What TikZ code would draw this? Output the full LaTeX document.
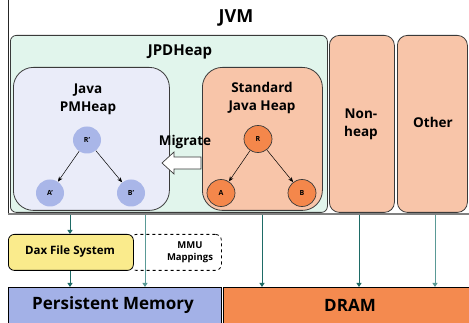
\documentclass[tikz,border=0pt]{standalone}
\usepackage{fontspec}
\setmainfont{Open Sans}
\usetikzlibrary{arrows.meta,shapes.geometric}
\definecolor{mint}{HTML}{E1F5EC}
\definecolor{lav}{HTML}{EAECF9}
\definecolor{salmon}{HTML}{F8C5A9}
\definecolor{orng}{HTML}{F4874B}
\definecolor{lavc}{HTML}{A9B6E8}
\definecolor{yel}{HTML}{FAEB8C}
\definecolor{pmblue}{HTML}{A3B1E7}
\definecolor{dram}{HTML}{F48A4F}
\definecolor{teal1}{HTML}{1E6B66}
\definecolor{teal2}{HTML}{5A9A96}
\definecolor{edge}{HTML}{3A3A3A}
\tikzset{
  boxr/.style={draw=edge, line width=0.8pt, anchor=north west, inner sep=0pt},
  lbl/.style={font=\bfseries, align=center, inner sep=0pt, text=black},
  circ/.style={ellipse, minimum width=28pt, minimum height=27pt, inner sep=0pt, font=\bfseries\fontsize{7}{8}\selectfont},
  treearr/.style={-{Stealth[length=5pt,width=4pt]}, line width=0.5pt},
  conn/.style={-{Triangle[length=4pt,width=5pt]}, line width=0.9pt, draw=teal1},
  connl/.style={-{Triangle[length=4pt,width=5pt]}, line width=0.9pt, draw=teal2},
}
\begin{document}
\begin{tikzpicture}[x=1pt,y=-1pt]
\useasboundingbox (0,0) rectangle (469,323);
\begin{scope}
\clip (0,0) rectangle (469,323);
% JVM frame
\draw[black!85, line width=1pt] (8,-5) -- (8,213);
\draw[gray, line width=2pt] (8,214) -- (475,214);
\node[lbl, font=\bfseries\fontsize{18}{20}\selectfont] (jvm) at (236,18) {JVM};
% JPDHeap
\node[boxr, fill=mint, rounded corners=6pt, minimum width=317pt, minimum height=177pt] (jpd) at (10,35) {};
\node[lbl, font=\bfseries\fontsize{15}{17}\selectfont] (jpdt) at (180,52) {JPDHeap};
% PMHeap
\node[boxr, fill=lav, rounded corners=20pt, minimum width=156pt, minimum height=143pt] (pmh) at (13,67) {};
\node[lbl, font=\bfseries\fontsize{13.5}{18}\selectfont] (pmht) at (88,99) {Java\\PMHeap};
% Standard heap
\node[boxr, fill=salmon, rounded corners=20pt, minimum width=120pt, minimum height=143pt] (sjh) at (202,67) {};
\node[lbl, font=\bfseries\fontsize{13.5}{18}\selectfont] (sjht) at (262,98) {Standard\\Java Heap};
% Non-heap, Other
\node[boxr, fill=salmon, rounded corners=10pt, minimum width=65pt, minimum height=177pt] (nh) at (329,35) {};
\node[lbl, font=\bfseries\fontsize{13.5}{18}\selectfont] (nht) at (361,124) {Non-\\heap};
\node[boxr, fill=salmon, rounded corners=10pt, minimum width=70pt, minimum height=177pt] (oth) at (397,35) {};
\node[lbl, font=\bfseries\fontsize{13.5}{18}\selectfont] (otht) at (433,122) {Other};
% trees
\node[circ, fill=lavc] (Rp) at (87,140) {R'};
\node[circ, fill=lavc] (Ap) at (50,193) {A'};
\node[circ, fill=lavc] (Bp) at (131,193) {B'};
\node[circ, fill=orng, draw=edge, line width=0.7pt] (R) at (258,139) {R};
\node[circ, fill=orng, draw=edge, line width=0.7pt] (A) at (221,193) {A};
\node[circ, fill=orng, draw=edge, line width=0.7pt] (B) at (302,193) {B};
\draw[treearr] (Rp) -- (Ap);
\draw[treearr] (Rp) -- (Bp);
\draw[treearr] (R) -- (A);
\draw[treearr] (R) -- (B);
% migrate block arrow
\coordinate (mig) at (162,163);
\draw[draw=edge, fill=white, line width=0.7pt, line join=miter]
  (mig) -- ++(12,-11) -- ++(0,5) -- ++(27,0) -- ++(0,12) -- ++(-27,0) -- ++(0,5) -- cycle;
\node[lbl, font=\bfseries\fontsize{13.5}{15}\selectfont] (migt) at (185,142) {Migrate};
% lower boxes
\node[boxr, draw=black, dashed, rounded corners=6pt, minimum width=91pt, minimum height=36pt] (mmu) at (130,234) {};
\node[lbl, font=\bfseries\fontsize{9.5}{12}\selectfont] (mmut) at (190,252) {MMU\\Mappings};
\node[boxr, draw=black, fill=yel, rounded corners=6pt, minimum width=125pt, minimum height=36pt] (dax) at (8,234) {};
\node[lbl, font=\bfseries\fontsize{11.5}{14}\selectfont] (daxt) at (70,252) {Dax File System};
\node[boxr, draw=black, fill=pmblue, minimum width=213pt, minimum height=45pt] (pm) at (8,287) {};
\node[lbl, font=\bfseries\fontsize{17}{20}\selectfont] (pmt) at (113,305) {Persistent Memory};
\node[boxr, draw=black, fill=dram, minimum width=260pt, minimum height=45pt] (dr) at (223,287) {};
\node[lbl, font=\bfseries\fontsize{17}{20}\selectfont] (drt) at (350,305) {DRAM};
% connectors
\coordinate (c1) at (70,215);
\coordinate (c2) at (145,215);
\coordinate (c3) at (262,215);
\coordinate (c4) at (359,215);
\coordinate (c5) at (435,215);
\draw[conn] (c1) -- (c1 |- dax.north);
\draw[conn] (dax.south -| c1) -- (c1 |- pm.north);
\draw[connl] (c2) -- (c2 |- pm.north);
\draw[conn] (c3) -- (c3 |- dr.north);
\draw[conn] (c4) -- (c4 |- dr.north);
\draw[connl] (c5) -- (c5 |- dr.north);
\end{scope}
\end{tikzpicture}
\end{document}
